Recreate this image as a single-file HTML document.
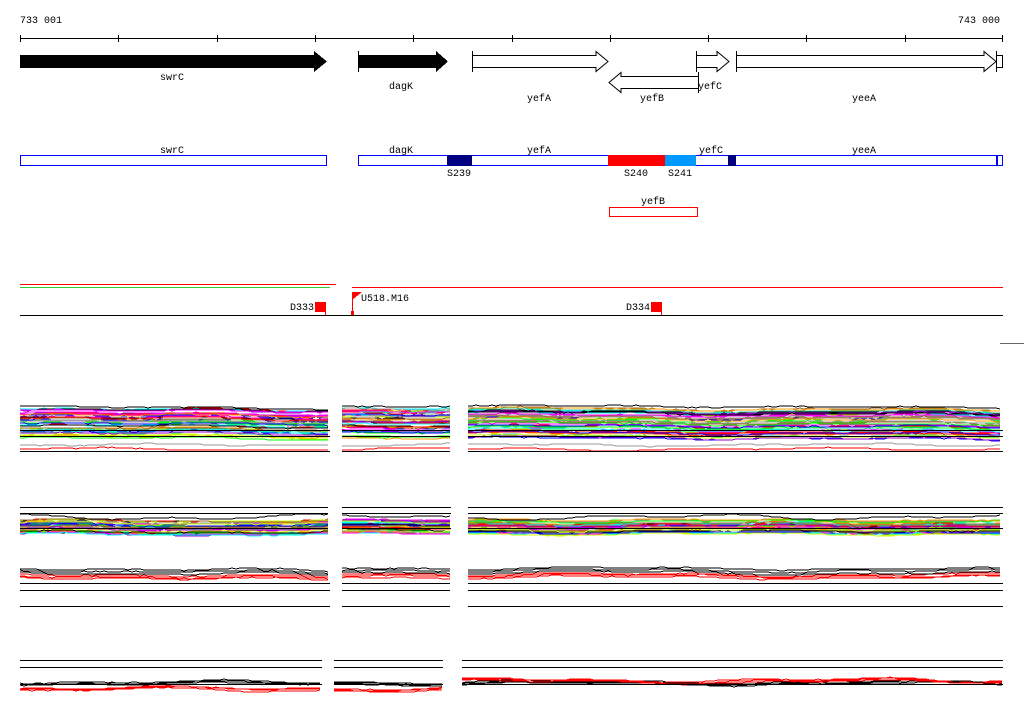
<!DOCTYPE html>
<html><head><meta charset="utf-8"><style>
body{margin:0;background:#fff;width:1024px;height:714px;overflow:hidden}
svg{display:block}
text{font-family:"Liberation Mono",monospace;font-size:10px;fill:#000}
</style></head><body>
<svg id="s" width="1024" height="714" viewBox="0 0 1024 714" xmlns="http://www.w3.org/2000/svg" shape-rendering="crispEdges">
<text x="20" y="23">733 001</text>
<text x="1000" y="23" text-anchor="end">743 000</text>
<line x1="20" y1="38.5" x2="1003" y2="38.5" stroke="#000"/>
<g stroke="#000">
<line x1="20.5" y1="35" x2="20.5" y2="42"/><line x1="118.5" y1="35" x2="118.5" y2="42"/><line x1="217.5" y1="35" x2="217.5" y2="42"/><line x1="315.5" y1="35" x2="315.5" y2="42"/><line x1="413.5" y1="35" x2="413.5" y2="42"/><line x1="512.5" y1="35" x2="512.5" y2="42"/><line x1="610.5" y1="35" x2="610.5" y2="42"/><line x1="708.5" y1="35" x2="708.5" y2="42"/><line x1="806.5" y1="35" x2="806.5" y2="42"/><line x1="905.5" y1="35" x2="905.5" y2="42"/><line x1="1002.5" y1="35" x2="1002.5" y2="42"/>
</g>
<polygon points="20,55 314,55 314,51 327,61.5 314,72 314,68 20,68" fill="#000"/>
<polygon points="358,55 436,55 436,51 448,61.5 436,72 436,68 358,68" fill="#000"/>
<line x1="358.5" y1="51" x2="358.5" y2="72" stroke="#000"/>
<g fill="#fff" stroke="#000" shape-rendering="auto">
<polygon points="472.5,55.5 596,55.5 596,51.5 608,61.5 596,71.5 596,67.5 472.5,67.5"/>
<polygon points="698.5,76.5 621,76.5 621,72.5 609,82.5 621,92.5 621,88.5 698.5,88.5"/>
<polygon points="696.5,55.5 717,55.5 717,51.5 729,61.5 717,71.5 717,67.5 696.5,67.5"/>
<polygon points="736.5,55.5 984,55.5 984,51.5 996,61.5 984,71.5 984,67.5 736.5,67.5"/>
<rect x="996.5" y="55.5" width="6" height="12"/>
</g>
<g stroke="#000"><line x1="472.5" y1="51" x2="472.5" y2="72"/><line x1="698.5" y1="72" x2="698.5" y2="93"/><line x1="696.5" y1="51" x2="696.5" y2="72"/><line x1="736.5" y1="51" x2="736.5" y2="72"/><line x1="996.5" y1="51" x2="996.5" y2="72"/></g>
<text x="172" y="80" text-anchor="middle">swrC</text>
<text x="401" y="89" text-anchor="middle">dagK</text>
<text x="539" y="101" text-anchor="middle">yefA</text>
<text x="652" y="101" text-anchor="middle">yefB</text>
<text x="710" y="89" text-anchor="middle">yefC</text>
<text x="864" y="101" text-anchor="middle">yeeA</text>

<rect x="20.5" y="155.5" width="306" height="10" fill="#fff" stroke="#0000ff"/>
<rect x="358.5" y="155.5" width="644" height="10" fill="#fff" stroke="#0000ff"/>
<rect x="447" y="155" width="25" height="11" fill="#000080"/>
<rect x="608" y="155" width="57" height="11" fill="#ff0000"/>
<rect x="665" y="155" width="31" height="11" fill="#0099ff"/>
<rect x="728" y="155" width="8" height="11" fill="#000080"/>
<rect x="996" y="155" width="2" height="11" fill="#0000ff"/>
<text x="172" y="153" text-anchor="middle">swrC</text>
<text x="401" y="153" text-anchor="middle">dagK</text>
<text x="539" y="153" text-anchor="middle">yefA</text>
<text x="711" y="153" text-anchor="middle">yefC</text>
<text x="864" y="153" text-anchor="middle">yeeA</text>
<text x="459" y="176" text-anchor="middle">S239</text>
<text x="636" y="176" text-anchor="middle">S240</text>
<text x="680" y="176" text-anchor="middle">S241</text>
<rect x="609.5" y="207.5" width="88" height="9" fill="#fff" stroke="#ff0000"/>
<text x="653" y="204" text-anchor="middle">yefB</text>

<line x1="20" y1="284.5" x2="336" y2="284.5" stroke="#ff0000"/>
<line x1="20" y1="287.5" x2="330" y2="287.5" stroke="#33cc33"/>
<line x1="352" y1="287.5" x2="1003" y2="287.5" stroke="#ff0000"/>
<line x1="20" y1="315.5" x2="1003" y2="315.5" stroke="#000"/>
<rect x="315" y="302" width="11" height="10" fill="#ff0000"/><line x1="325.5" y1="302" x2="325.5" y2="315" stroke="#f00"/>
<text x="314" y="310" text-anchor="end">D333</text>
<rect x="651" y="302" width="11" height="10" fill="#ff0000"/><line x1="661.5" y1="302" x2="661.5" y2="315" stroke="#f00"/>
<text x="650" y="310" text-anchor="end">D334</text>
<line x1="352.5" y1="292" x2="352.5" y2="315" stroke="#f00"/>
<polygon points="352,292 362,292 352,300" fill="#f00"/>
<rect x="351" y="311" width="3" height="4" fill="#f00"/>
<text x="361" y="301">U518.M16</text>
<line x1="1000" y1="343.5" x2="1024" y2="343.5" stroke="#666"/>
<g id="plots"></g>
<g stroke="#000">
<line x1="20" y1="430.5" x2="330" y2="430.5"/><line x1="20" y1="436.5" x2="330" y2="436.5"/><line x1="20" y1="451.5" x2="330" y2="451.5"/>
<line x1="342" y1="430.5" x2="450" y2="430.5"/><line x1="342" y1="436.5" x2="450" y2="436.5"/><line x1="342" y1="451.5" x2="450" y2="451.5"/>
<line x1="468" y1="430.5" x2="1003" y2="430.5"/><line x1="468" y1="436.5" x2="1003" y2="436.5"/><line x1="468" y1="451.5" x2="1003" y2="451.5"/>
<line x1="20" y1="507.5" x2="328" y2="507.5"/><line x1="20" y1="513.5" x2="328" y2="513.5"/><line x1="20" y1="528.5" x2="328" y2="528.5"/>
<line x1="342" y1="507.5" x2="451" y2="507.5"/><line x1="342" y1="513.5" x2="451" y2="513.5"/><line x1="342" y1="528.5" x2="451" y2="528.5"/>
<line x1="468" y1="507.5" x2="1003" y2="507.5"/><line x1="468" y1="513.5" x2="1003" y2="513.5"/><line x1="468" y1="528.5" x2="1003" y2="528.5"/>
<line x1="20" y1="583.5" x2="330" y2="583.5"/><line x1="20" y1="590.5" x2="330" y2="590.5"/><line x1="20" y1="606.5" x2="330" y2="606.5"/>
<line x1="342" y1="583.5" x2="450" y2="583.5"/><line x1="342" y1="590.5" x2="450" y2="590.5"/><line x1="342" y1="606.5" x2="450" y2="606.5"/>
<line x1="468" y1="583.5" x2="1003" y2="583.5"/><line x1="468" y1="590.5" x2="1003" y2="590.5"/><line x1="468" y1="606.5" x2="1003" y2="606.5"/>
<line x1="20" y1="660.5" x2="322" y2="660.5"/><line x1="20" y1="667.5" x2="322" y2="667.5"/><line x1="20" y1="684.5" x2="322" y2="684.5"/>
<line x1="334" y1="660.5" x2="443" y2="660.5"/><line x1="334" y1="667.5" x2="443" y2="667.5"/><line x1="334" y1="684.5" x2="443" y2="684.5"/>
<line x1="462" y1="660.5" x2="1003" y2="660.5"/><line x1="462" y1="667.5" x2="1003" y2="667.5"/><line x1="462" y1="684.5" x2="1003" y2="684.5"/>
</g>
</svg>
<script>
(function(){
var g=document.getElementById('plots');var seed=7;
function r(){seed=(seed*16807)%2147483647;return seed/2147483647;}
var cols=['#ff0000','#00ff00','#0000ff','#ff00ff','#00ffff','#ff9900','#999999','#996633','#000000','#ccff00','#9900cc','#33cc99'];
/* shared smooth shape per panel */
function shape(x,k){return Math.sin(x/55+k)*0.6+Math.sin(x/23+2*k)*0.4;}
function line(x0,x1,y0,amp,col,w,k,slope){var p=[],off=0;
for(var x=x0;x<=x1;x+=4){off+=(r()-0.5)*0.6;off*=0.9;var y=y0+shape(x,k)*amp+off+(slope||0)*(x-x0);y=Math.round(y);p.push(x+','+y);}
var e=document.createElementNS('http://www.w3.org/2000/svg','polyline');e.setAttribute('points',p.join(' '));e.setAttribute('fill','none');e.setAttribute('stroke',col);e.setAttribute('stroke-width',w||1);g.appendChild(e);}
var segs1=[[20,330,0.01],[342,450,0],[468,1003,0.003]];
segs1.forEach(function(s){for(var i=0;i<40;i++){line(s[0],s[1],408+r()*30,1.5,cols[i%cols.length],1,1,s[2]);}
line(s[0],s[1],445,1.5,'#999',1,2);line(s[0],s[1],449,1.5,'#f00',1,3);line(s[0],s[1],406,1,'#000',1,1,s[2]);});
var segs2=[[20,328],[342,451],[468,1003]];
segs2.forEach(function(s){for(var i=0;i<35;i++){line(s[0],s[1],520+r()*15,1.5,cols[i%cols.length],1,4);}line(s[0],s[1],517,3,'#000',1,5);});
segs1.forEach(function(s){for(var i=0;i<3;i++){line(s[0],s[1],568+i*2,2,'#000',1,6,s[2]);line(s[0],s[1],574+i*1.5,2,'#f00',1,6,s[2]);}});
var segs4=[[20,322],[334,443],[462,1003]];
segs4.forEach(function(s){for(var i=0;i<3;i++){line(s[0],s[1],682+i,2,'#000',1,7);line(s[0],s[1],(s[0]>450?680:688)+i,2.5,'#f00',1,8);}});
})();
</script>
</body></html>
